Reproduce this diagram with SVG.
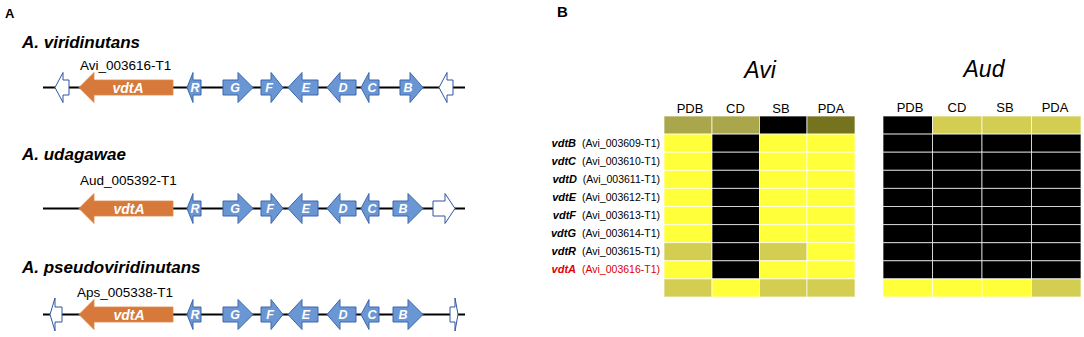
<svg xmlns="http://www.w3.org/2000/svg" width="1084" height="337" viewBox="0 0 1084 337">
<style>
.panel{font-family:"Liberation Sans",Arial,sans-serif;font-weight:bold;fill:#000}
.sp{font-family:"Liberation Sans",Arial,sans-serif;font-weight:bold;font-style:italic;font-size:17px;fill:#000}
.id{font-family:"Liberation Sans",Arial,sans-serif;font-size:13.5px;fill:#000}
.bb{stroke:#000;stroke-width:2;fill:none}
.blue{fill:#6a97d4;stroke:#3c66ad;stroke-width:1}
.wht{fill:#fff;stroke:#2e54a3;stroke-width:1}
.org{fill:#d6793a;stroke:#e08a4a;stroke-width:0.8}
.gl{font-family:"Liberation Sans",Arial,sans-serif;font-weight:bold;font-style:italic;font-size:12.5px;fill:#fff;text-anchor:middle}
.gla{font-family:"Liberation Sans",Arial,sans-serif;font-weight:bold;font-style:italic;font-size:14px;fill:#fff;text-anchor:middle}
.ttl{font-family:"Liberation Sans",Arial,sans-serif;font-style:italic;font-size:23px;fill:#000;text-anchor:middle}
.hd{font-family:"Liberation Sans",Arial,sans-serif;font-size:13px;fill:#000;text-anchor:middle}
.rl{font-family:"Liberation Sans",Arial,sans-serif;font-size:10.5px;fill:#000;text-anchor:end}
.rl .g{font-weight:bold;font-style:italic;font-size:11px}
.red{fill:#e00000}
.c rect{stroke:#fff;stroke-opacity:0.7;stroke-width:1}
.Y{fill:#ffff3a}.K{fill:#d3cd52}.O{fill:#a9a64b}.D{fill:#76731f}.B{fill:#000}
</style>

<text class="panel" x="5" y="18" font-size="13">A</text>
<text class="panel" x="557" y="17" font-size="15">B</text>

<g id="connectors">
  <line class="bb" x1="43" y1="87.5" x2="465" y2="87.5"/>
  <line class="bb" x1="43" y1="208.5" x2="465" y2="208.5"/>
  <line class="bb" x1="43" y1="314.5" x2="465" y2="314.5"/>
</g>

<!-- Row 1: A. viridinutans -->
<g id="row-viridinutans">
  <text class="sp" x="22" y="48">A. viridinutans</text>
  <text class="id" x="80" y="70">Avi_003616-T1</text>
  <g id="avi-w1"><polygon class="wht" points="55,87.5 63,72.5 63,80 69,80 69,95 63,95 63,102.5"/></g>
  <g id="avi-vdtA"><polygon class="org" points="79,87.5 94,72.5 94,80 173,80 173,95 94,95 94,102.5"/><text class="gla" x="128" y="93">vdtA</text></g>
  <g id="avi-R"><polygon class="blue" points="187,87.5 193,72.5 193,80 201,80 201,95 193,95 193,102.5"/><text class="gl" x="195" y="92">R</text></g>
  <g id="avi-G"><polygon class="blue" points="223,80 238,80 238,72.5 253,87.5 238,102.5 238,95 223,95"/><text class="gl" x="235" y="92">G</text></g>
  <g id="avi-F"><polygon class="blue" points="261,80 271,80 271,72.5 283,87.5 271,102.5 271,95 261,95"/><text class="gl" x="269" y="92">F</text></g>
  <g id="avi-E"><polygon class="blue" points="288,87.5 302,72.5 302,80 318,80 318,95 302,95 302,102.5"/><text class="gl" x="306" y="92">E</text></g>
  <g id="avi-D"><polygon class="blue" points="327,87.5 340,72.5 340,80 356,80 356,95 340,95 340,102.5"/><text class="gl" x="343" y="92">D</text></g>
  <g id="avi-C"><polygon class="blue" points="361,87.5 369,72.5 369,80 379,80 379,95 369,95 369,102.5"/><text class="gl" x="372" y="92">C</text></g>
  <g id="avi-B"><polygon class="blue" points="400,80 410,80 410,72.5 423,87.5 410,102.5 410,95 400,95"/><text class="gl" x="408" y="92">B</text></g>
  <g id="avi-w2"><polygon class="wht" points="439,87.5 447,72.5 447,80 453,80 453,95 447,95 447,102.5"/></g>
</g>

<!-- Row 2: A. udagawae -->
<g id="row-udagawae">
  <text class="sp" x="22" y="159.5">A. udagawae</text>
  <text class="id" x="80" y="185">Aud_005392-T1</text>
  <g transform="translate(0,121)">
    <g id="aud-vdtA"><polygon class="org" points="79,87.5 94,72.5 94,80 173,80 173,95 94,95 94,102.5"/><text class="gla" x="129" y="93">vdtA</text></g>
    <g id="aud-R"><polygon class="blue" points="187,87.5 193,72.5 193,80 201,80 201,95 193,95 193,102.5"/><text class="gl" x="195" y="92">R</text></g>
    <g id="aud-G"><polygon class="blue" points="223,80 238,80 238,72.5 253,87.5 238,102.5 238,95 223,95"/><text class="gl" x="235" y="92">G</text></g>
    <g id="aud-F"><polygon class="blue" points="261,80 271,80 271,72.5 283,87.5 271,102.5 271,95 261,95"/><text class="gl" x="270" y="92">F</text></g>
    <g id="aud-E"><polygon class="blue" points="288,87.5 302,72.5 302,80 318,80 318,95 302,95 302,102.5"/><text class="gl" x="306" y="92">E</text></g>
    <g id="aud-D"><polygon class="blue" points="327,87.5 340,72.5 340,80 356,80 356,95 340,95 340,102.5"/><text class="gl" x="343" y="92">D</text></g>
    <g id="aud-C"><polygon class="blue" points="361,87.5 369,72.5 369,80 379,80 379,95 369,95 369,102.5"/><text class="gl" x="372" y="92">C</text></g>
    <g id="aud-B"><polygon class="blue" points="393,80 408,80 408,72.5 423,87.5 408,102.5 408,95 393,95"/><text class="gl" x="403" y="92">B</text></g>
    <g id="aud-w1"><polygon class="wht" points="433,80 445,80 445,72.5 455,87.5 445,102.5 445,95 433,95"/></g>
  </g>
</g>

<!-- Row 3: A. pseudoviridinutans -->
<g id="row-pseudoviridinutans">
  <text class="sp" x="22" y="272.5">A. pseudoviridinutans</text>
  <text class="id" x="77" y="296.5">Aps_005338-T1</text>
  <g transform="translate(0,227)">
    <g id="aps-w1"><polygon class="wht" points="50,87.5 55,71 55,80 62,80 62,95 55,95 55,104"/></g>
    <g id="aps-vdtA"><polygon class="org" points="79,87.5 94,72.5 94,80 173,80 173,95 94,95 94,102.5"/><text class="gla" x="129" y="93">vdtA</text></g>
    <g id="aps-R"><polygon class="blue" points="187,87.5 193,72.5 193,80 201,80 201,95 193,95 193,102.5"/><text class="gl" x="195" y="92">R</text></g>
    <g id="aps-G"><polygon class="blue" points="223,80 238,80 238,72.5 253,87.5 238,102.5 238,95 223,95"/><text class="gl" x="235" y="92">G</text></g>
    <g id="aps-F"><polygon class="blue" points="261,80 271,80 271,72.5 283,87.5 271,102.5 271,95 261,95"/><text class="gl" x="270" y="92">F</text></g>
    <g id="aps-E"><polygon class="blue" points="288,87.5 302,72.5 302,80 318,80 318,95 302,95 302,102.5"/><text class="gl" x="306" y="92">E</text></g>
    <g id="aps-D"><polygon class="blue" points="327,87.5 340,72.5 340,80 356,80 356,95 340,95 340,102.5"/><text class="gl" x="343" y="92">D</text></g>
    <g id="aps-C"><polygon class="blue" points="361,87.5 369,72.5 369,80 379,80 379,95 369,95 369,102.5"/><text class="gl" x="372" y="92">C</text></g>
    <g id="aps-B"><polygon class="blue" points="393,80 408,80 408,72.5 423,87.5 408,102.5 408,95 393,95"/><text class="gl" x="403" y="92">B</text></g>
    <g id="aps-w2"><polygon class="wht" points="450,80 455,80 455,71 458,87.5 455,104 455,95 450,95"/></g>
  </g>
</g>

<!-- Panel B heatmaps -->
<g id="heatmap-avi">
  <text class="ttl" x="760" y="78">Avi</text>
  <text class="hd" x="690" y="113">PDB</text>
  <text class="hd" x="735.5" y="113">CD</text>
  <text class="hd" x="781" y="113">SB</text>
  <text class="hd" x="831" y="113">PDA</text>
  <g class="c">
    <rect class="O" x="664" y="116" width="48" height="18.1"/><rect class="O" x="712" y="116" width="47.5" height="18.1"/><rect class="B" x="759.5" y="116" width="47.5" height="18.1"/><rect class="D" x="807" y="116" width="48" height="18.1"/>
    <rect class="Y" x="664" y="134.1" width="48" height="18.1"/><rect class="B" x="712" y="134.1" width="47.5" height="18.1"/><rect class="Y" x="759.5" y="134.1" width="47.5" height="18.1"/><rect class="Y" x="807" y="134.1" width="48" height="18.1"/>
    <rect class="Y" x="664" y="152.2" width="48" height="18.1"/><rect class="B" x="712" y="152.2" width="47.5" height="18.1"/><rect class="Y" x="759.5" y="152.2" width="47.5" height="18.1"/><rect class="Y" x="807" y="152.2" width="48" height="18.1"/>
    <rect class="Y" x="664" y="170.3" width="48" height="18.1"/><rect class="B" x="712" y="170.3" width="47.5" height="18.1"/><rect class="Y" x="759.5" y="170.3" width="47.5" height="18.1"/><rect class="Y" x="807" y="170.3" width="48" height="18.1"/>
    <rect class="Y" x="664" y="188.4" width="48" height="18.1"/><rect class="B" x="712" y="188.4" width="47.5" height="18.1"/><rect class="Y" x="759.5" y="188.4" width="47.5" height="18.1"/><rect class="Y" x="807" y="188.4" width="48" height="18.1"/>
    <rect class="Y" x="664" y="206.5" width="48" height="18.1"/><rect class="B" x="712" y="206.5" width="47.5" height="18.1"/><rect class="Y" x="759.5" y="206.5" width="47.5" height="18.1"/><rect class="Y" x="807" y="206.5" width="48" height="18.1"/>
    <rect class="Y" x="664" y="224.6" width="48" height="18.1"/><rect class="B" x="712" y="224.6" width="47.5" height="18.1"/><rect class="Y" x="759.5" y="224.6" width="47.5" height="18.1"/><rect class="Y" x="807" y="224.6" width="48" height="18.1"/>
    <rect class="K" x="664" y="242.7" width="48" height="18.1"/><rect class="B" x="712" y="242.7" width="47.5" height="18.1"/><rect class="K" x="759.5" y="242.7" width="47.5" height="18.1"/><rect class="Y" x="807" y="242.7" width="48" height="18.1"/>
    <rect class="Y" x="664" y="260.8" width="48" height="18.1"/><rect class="B" x="712" y="260.8" width="47.5" height="18.1"/><rect class="Y" x="759.5" y="260.8" width="47.5" height="18.1"/><rect class="Y" x="807" y="260.8" width="48" height="18.1"/>
    <rect class="K" x="664" y="278.9" width="48" height="18.1"/><rect class="Y" x="712" y="278.9" width="47.5" height="18.1"/><rect class="K" x="759.5" y="278.9" width="47.5" height="18.1"/><rect class="K" x="807" y="278.9" width="48" height="18.1"/>
  </g>
</g>

<g id="row-labels">
  <text class="rl" x="660" y="146.6"><tspan class="g">vdtB</tspan><tspan dx="3"> (Avi_003609-T1)</tspan></text>
  <text class="rl" x="660" y="164.7"><tspan class="g">vdtC</tspan><tspan dx="3"> (Avi_003610-T1)</tspan></text>
  <text class="rl" x="660" y="182.8"><tspan class="g">vdtD</tspan><tspan dx="3"> (Avi_003611-T1)</tspan></text>
  <text class="rl" x="660" y="200.9"><tspan class="g">vdtE</tspan><tspan dx="3"> (Avi_003612-T1)</tspan></text>
  <text class="rl" x="660" y="219"><tspan class="g">vdtF</tspan><tspan dx="3"> (Avi_003613-T1)</tspan></text>
  <text class="rl" x="660" y="237.1"><tspan class="g">vdtG</tspan><tspan dx="3"> (Avi_003614-T1)</tspan></text>
  <text class="rl" x="660" y="255.2"><tspan class="g">vdtR</tspan><tspan dx="3"> (Avi_003615-T1)</tspan></text>
  <text class="rl red" x="660" y="273.3"><tspan class="g">vdtA</tspan><tspan dx="3"> (Avi_003616-T1)</tspan></text>
</g>

<g id="heatmap-aud">
  <text class="ttl" x="984" y="77">Aud</text>
  <text class="hd" x="910" y="112">PDB</text>
  <text class="hd" x="957" y="112">CD</text>
  <text class="hd" x="1005" y="112">SB</text>
  <text class="hd" x="1055" y="112">PDA</text>
  <g class="c">
    <rect class="B" x="883" y="116" width="49.5" height="18.1"/><rect class="K" x="932.5" y="116" width="49.5" height="18.1"/><rect class="K" x="982" y="116" width="49.5" height="18.1"/><rect class="K" x="1031.5" y="116" width="49.5" height="18.1"/>
    <rect class="B" x="883" y="134.1" width="49.5" height="18.1"/><rect class="B" x="932.5" y="134.1" width="49.5" height="18.1"/><rect class="B" x="982" y="134.1" width="49.5" height="18.1"/><rect class="B" x="1031.5" y="134.1" width="49.5" height="18.1"/>
    <rect class="B" x="883" y="152.2" width="49.5" height="18.1"/><rect class="B" x="932.5" y="152.2" width="49.5" height="18.1"/><rect class="B" x="982" y="152.2" width="49.5" height="18.1"/><rect class="B" x="1031.5" y="152.2" width="49.5" height="18.1"/>
    <rect class="B" x="883" y="170.3" width="49.5" height="18.1"/><rect class="B" x="932.5" y="170.3" width="49.5" height="18.1"/><rect class="B" x="982" y="170.3" width="49.5" height="18.1"/><rect class="B" x="1031.5" y="170.3" width="49.5" height="18.1"/>
    <rect class="B" x="883" y="188.4" width="49.5" height="18.1"/><rect class="B" x="932.5" y="188.4" width="49.5" height="18.1"/><rect class="B" x="982" y="188.4" width="49.5" height="18.1"/><rect class="B" x="1031.5" y="188.4" width="49.5" height="18.1"/>
    <rect class="B" x="883" y="206.5" width="49.5" height="18.1"/><rect class="B" x="932.5" y="206.5" width="49.5" height="18.1"/><rect class="B" x="982" y="206.5" width="49.5" height="18.1"/><rect class="B" x="1031.5" y="206.5" width="49.5" height="18.1"/>
    <rect class="B" x="883" y="224.6" width="49.5" height="18.1"/><rect class="B" x="932.5" y="224.6" width="49.5" height="18.1"/><rect class="B" x="982" y="224.6" width="49.5" height="18.1"/><rect class="B" x="1031.5" y="224.6" width="49.5" height="18.1"/>
    <rect class="B" x="883" y="242.7" width="49.5" height="18.1"/><rect class="B" x="932.5" y="242.7" width="49.5" height="18.1"/><rect class="B" x="982" y="242.7" width="49.5" height="18.1"/><rect class="B" x="1031.5" y="242.7" width="49.5" height="18.1"/>
    <rect class="B" x="883" y="260.8" width="49.5" height="18.1"/><rect class="B" x="932.5" y="260.8" width="49.5" height="18.1"/><rect class="B" x="982" y="260.8" width="49.5" height="18.1"/><rect class="B" x="1031.5" y="260.8" width="49.5" height="18.1"/>
    <rect class="Y" x="883" y="278.9" width="49.5" height="18.1"/><rect class="Y" x="932.5" y="278.9" width="49.5" height="18.1"/><rect class="Y" x="982" y="278.9" width="49.5" height="18.1"/><rect class="K" x="1031.5" y="278.9" width="49.5" height="18.1"/>
  </g>
</g>
</svg>
